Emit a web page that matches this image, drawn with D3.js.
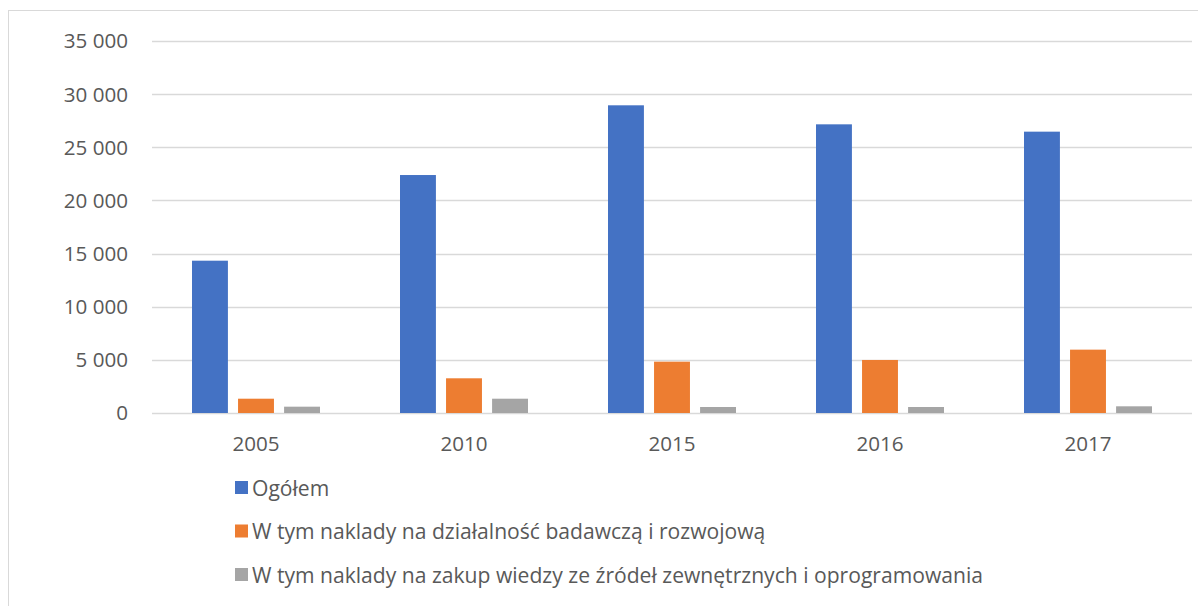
<!DOCTYPE html>
<html>
<head>
<meta charset="utf-8">
<script src="https://cdn.jsdelivr.net/npm/d3@7"></script>
<style>
  body { margin: 0; background: #fff; }
  svg text { font-family: "Open Sans", "Noto Sans", sans-serif; fill: #595959; }
</style>
</head>
<body>
<svg id="chart" width="1198" height="606"></svg>
<script>
// data
const years = ["2005", "2010", "2015", "2016", "2017"];
const seriesNames = [
  "Ogółem",
  "W tym naklady na działalność badawczą i rozwojową",
  "W tym naklady na zakup wiedzy ze źródeł zewnętrznych i oprogramowania"
];
const ogolem = [14330, 22390, 28950, 27160, 26470];
const badawcza = [1345, 3265, 4830, 4990, 5960];
const wiedza = [595, 1345, 565, 565, 630];
const yTicks = [0, 5000, 10000, 15000, 20000, 25000, 30000, 35000];
const colors = ["#4472C4", "#ED7D31", "#A5A5A5"];

const svg = d3.select("#chart");

// outer chart frame (cropped at right and bottom)
svg.append("rect")
  .attr("x", 8.5).attr("y", 10.5)
  .attr("width", 1300).attr("height", 700)
  .attr("fill", "none")
  .attr("stroke", "#D9D9D9");

const plot = { left: 152, right: 1192, top: 41, bottom: 413 };

const x = d3.scaleBand().domain(years).range([plot.left, plot.right]);
const xInner = d3.scaleBand()
  .domain(d3.range(3))
  .range([40, 168])
  .paddingInner(0.22);
const y = d3.scaleLinear().domain([0, 35000]).range([plot.bottom, plot.top]);

const fmt = v => d3.format(",")(v).replace(/,/g, " ");

// gridlines
svg.append("g")
  .selectAll("line")
  .data(yTicks)
  .join("line")
  .attr("x1", plot.left).attr("x2", plot.right)
  .attr("y1", d => Math.round(y(d)) + 0.5)
  .attr("y2", d => Math.round(y(d)) + 0.5)
  .attr("stroke", "#D9D9D9")
  .attr("stroke-width", 1.3);

// y labels
svg.append("g")
  .selectAll("text")
  .data(yTicks)
  .join("text")
  .attr("x", 128)
  .attr("y", d => y(d))
  .attr("dy", "0.36em")
  .attr("text-anchor", "end")
  .style("font-size", "20.6px")
  .text(fmt);

// bars
const allSeries = [ogolem, badawcza, wiedza];
allSeries.forEach((vals, si) => {
  svg.append("g")
    .selectAll("rect")
    .data(vals)
    .join("rect")
    .attr("x", (d, i) => x(years[i]) + xInner(si))
    .attr("width", xInner.bandwidth())
    .attr("y", d => y(d))
    .attr("height", d => y(0) - y(d))
    .attr("fill", colors[si]);
});

// x labels
svg.append("g")
  .selectAll("text")
  .data(years)
  .join("text")
  .attr("x", d => x(d) + x.bandwidth() / 2)
  .attr("y", 451)
  .attr("text-anchor", "middle")
  .style("font-size", "20.6px")
  .text(d => d);

// legend
const legend = svg.append("g")
  .selectAll("g")
  .data(seriesNames)
  .join("g")
  .attr("transform", (d, i) => `translate(235, ${488 + i * 43.5})`);

legend.append("rect")
  .attr("x", 0).attr("y", -7)
  .attr("width", 13).attr("height", 13)
  .attr("fill", (d, i) => colors[i]);

legend.append("text")
  .attr("x", 17)
  .attr("dy", "0.36em")
  .style("font-size", "21.1px")
  .text(d => d);
</script>
</body>
</html>
